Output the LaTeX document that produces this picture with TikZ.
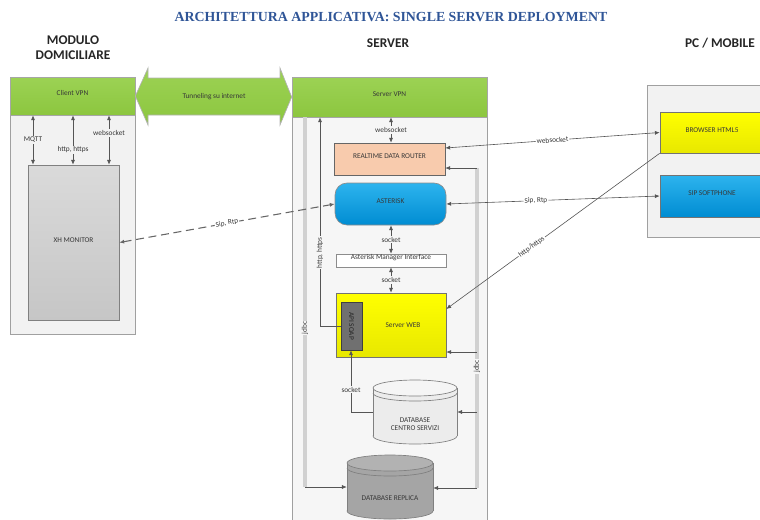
\documentclass[tikz,border=0pt]{standalone}
\usepackage{fontspec}
\setmainfont{Carlito}
\newfontfamily\titlefont{Liberation Serif}
\usetikzlibrary{fit,arrows.meta,calc}
\definecolor{panelfill}{RGB}{242,242,242}
\definecolor{srvfill}{RGB}{246,246,246}
\definecolor{panelborder}{RGB}{160,160,160}
\definecolor{vpngreen}{RGB}{140,198,63}
\definecolor{vpngreenL}{RGB}{156,210,84}
\definecolor{peach}{RGB}{248,203,173}
\definecolor{astblueT}{RGB}{45,180,238}
\definecolor{astblueB}{RGB}{0,140,210}
\definecolor{yel}{RGB}{255,255,0}
\definecolor{yelB}{RGB}{232,232,0}
\definecolor{apigray}{RGB}{112,112,112}
\definecolor{xhT}{RGB}{218,218,218}
\definecolor{xhB}{RGB}{198,198,198}
\definecolor{dbL}{RGB}{236,236,236}
\definecolor{dbD}{RGB}{165,165,165}
\definecolor{conncol}{RGB}{85,85,85}
\definecolor{txtcol}{RGB}{55,55,55}
\definecolor{titleblue}{RGB}{47,85,151}
\begin{document}
\begin{tikzpicture}[x=0.75pt,y=-0.75pt,
  >={Latex[length=3.6pt,width=3pt]},
  small/.style={font=\fontsize{5.5}{6.5}\selectfont, text=txtcol},
  panel/.style={draw=panelborder, fill=panelfill, inner sep=0pt, line width=0.6pt},
  blk/.style={draw=black!55, inner sep=0pt, line width=0.5pt, small, align=center},
  vpn/.style={blk, draw=black!35, top color=vpngreenL, bottom color=vpngreen},
  lbl/.style={small, inner sep=0.8pt, fill=srvfill},
  wlbl/.style={small, inner sep=0.8pt, fill=white},
  conn/.style={draw=conncol, line width=0.45pt},
  pipe/.style={draw=black!40, double=black!18, double distance=2.6pt, line width=0.45pt},
  dbline/.style={draw=black!50, line width=0.5pt},
  hdr/.style={font=\fontsize{10}{11.5}\selectfont\bfseries, text=black!85, align=center},
  ttl/.style={font=\titlefont\fontsize{10.4}{12}\selectfont\bfseries, text=titleblue}]
\useasboundingbox (0,0) rectangle (760,519);
\clip (0,0) rectangle (760,519);

% titles
\node[ttl] (title) at (391,17) {ARCHITETTURA APPLICATIVA: SINGLE SERVER DEPLOYMENT};
\node[hdr] (hmod) at (73,48) {MODULO\\DOMICILIARE};
\node[hdr] (hsrv) at (388,43) {SERVER};
\node[hdr] (hpc) at (720,43) {PC / MOBILE};

% ---------- modulo domiciliare ----------
\node[panel, fit={(10,77) (135,334)}] (modbox) {};
\node[vpn, fit={(10,77) (135,115)}] (clientvpn) {Client VPN};
\node[blk, draw=black!50, top color=xhT, bottom color=xhB, fit={(28,165) (119,320)}] (xh) {XH MONITOR};
\draw[conn,<->] (clientvpn.south -| 33,0) -- (xh.north -| 33,0) node[lbl, fill=panelfill, pos=0.5] {MQTT};
\draw[conn,<->] (clientvpn.south -| 73,0) -- (xh.north -| 73,0) node[lbl, fill=panelfill, pos=0.7] {http, https};
\draw[conn,<->] (clientvpn.south -| 109,0) -- (xh.north -| 109,0) node[lbl, fill=panelfill, pos=0.36] {websocket};

% ---------- server ----------
\node[panel, fill=srvfill, fit={(292,77) (487,545)}] (srvbox) {};
\node[vpn, fit={(292,77) (487,117)}] (servervpn) {Server VPN};

% tunnel
\draw[draw=black!30, top color=vpngreenL, bottom color=vpngreen, line width=0.5pt]
  (clientvpn.east) -- (148,68) -- (148,78) -- (280,78) -- (280,68) -- (servervpn.west)
  -- (280,125) -- (280,115) -- (148,115) -- (148,125) -- cycle;
\node[small] (tunlbl) at (214,97) {Tunneling su internet};

\node[blk, fill=peach, draw=black!60, fit={(334,143) (445,175)}] (router) {REALTIME DATA ROUTER};
\node[blk, rounded corners=9pt, draw=black!45, top color=astblueT, bottom color=astblueB, fit={(335,183) (446,225)}] (asterisk) {ASTERISK};
\node[blk, fill=white, draw=black!45, fit={(336,254) (446,267)}] (ami) {Asterisk Manager Interface};
\node[blk, draw=black!55, top color=yel, bottom color=yelB, fit={(336,293) (446,357)},
      label={[small, xshift=9pt]center:Server WEB}] (web) {};
\node[blk, fill=apigray, draw=black!75, fit={(341,302) (362,350)},
      label={[small, text=black!85, rotate=-90]center:API SOAP}] (api) {};

% database centro servizi
\fill[dbL] (373,388) rectangle (457,436);
\draw[dbline, fill=dbL] (415,436) ellipse [x radius=42, y radius=8];
\fill[dbL] (373,388) rectangle (457,436);
\draw[dbline] (373,388) -- (373,436) (457,388) -- (457,436);
\draw[dbline, fill=white!96!black] (415,388) ellipse [x radius=42, y radius=8];
\draw[dbline] (373,393) arc[start angle=180, end angle=0, x radius=42, y radius=8];
\node[inner sep=0pt, fit={(373,380) (457,444)}] (dbcs) {};
\node[small, align=center] (dbcstxt) at (415,424) {DATABASE\\CENTRO SERVIZI};

% database replica
\fill[dbD] (347,463) rectangle (433,511);
\draw[dbline, fill=dbD] (390,511) ellipse [x radius=43, y radius=8];
\fill[dbD] (347,463) rectangle (433,511);
\draw[dbline] (347,463) -- (347,511) (433,463) -- (433,511);
\draw[dbline, fill=dbD!85!white] (390,463) ellipse [x radius=43, y radius=8];
\draw[dbline] (347,468) arc[start angle=180, end angle=0, x radius=43, y radius=8];
\node[inner sep=0pt, fit={(347,455) (433,519)}] (replica) {};
\node[small] (replicatxt) at (390,498) {DATABASE REPLICA};

% internal connectors
\draw[conn,<->] (servervpn.south -| 391,0) -- (router.north -| 391,0) node[lbl, midway] {websocket};
\draw[conn,<->] (asterisk.south -| 391,0) -- (ami.north -| 391,0) node[lbl, midway] {socket};
\draw[conn,<->] (ami.south -| 391,0) -- (web.north -| 391,0) node[lbl, midway] {socket};
\draw[conn,->] (dbcs.west |- 0,412) -| (api.south -| 351,0) node[lbl, pos=0.68] {socket};
\draw[conn,->] (api.west) -| (servervpn.south -| 320,0) node[lbl, rotate=90, pos=0.675] {http, https};

% left pipe
\coordinate (lp1) at (305,117);
\coordinate (lp2) at (305,487);
\draw[pipe] (lp1) -- (lp2) node[lbl, rotate=90, pos=0.57] {jdbc};
\draw[conn,->] (lp2) -- (replica.west);

% right pipe
\coordinate (rp1) at (477,168);
\coordinate (rpw) at (477,352);
\coordinate (rpd) at (477,412);
\coordinate (rp2) at (477,488);
\draw[pipe] (rp1) -- (rp2) node[lbl, rotate=90, pos=0.62] {jdbc};
\draw[conn,->] (rp1) -- (router.east |- rp1);
\draw[conn,->] (rpw) -- (web.east |- rpw);
\draw[conn,->] (rpd) -- (dbcs.east |- rpd);
\draw[conn,->] (rp2) -- (replica.east |- rp2);

% ---------- PC / mobile ----------
\node[panel, fit={(647,85) (800,237)}] (pcbox) {};
\node[blk, top color=yel, bottom color=yelB, fit={(660,112) (764,153)}] (browser) {BROWSER HTML5};
\node[blk, top color=astblueT, bottom color=astblueB, fit={(660,175) (764,217)}] (softphone) {SIP SOFTPHONE};

% external connectors
\draw[conn,<->] (browser.west) -- (router.east |- 0,148) node[wlbl, sloped, pos=0.5] {websocket};
\draw[conn,<->] (asterisk.east) -- (softphone.west) node[wlbl, sloped, pos=0.42] {Sip, Rtp};
\draw[conn,->] (browser.south west) -- (web.east |- 0,309) node[wlbl, sloped, pos=0.6] {http/https};
\draw[conn, draw=black!60, line width=0.8pt, dash pattern=on 6pt off 3.5pt, <->] (xh.east) -- (asterisk.west)
  node[wlbl, sloped, pos=0.5] {Sip, Rtp};
\end{tikzpicture}
\end{document}
